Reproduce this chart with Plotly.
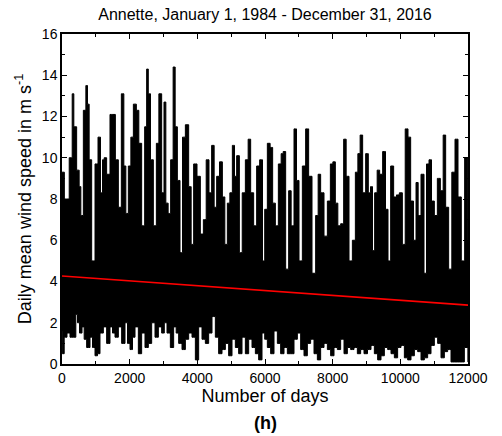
import plotly.graph_objects as go

# Upper envelope (local maxima of daily mean wind speed), day index and value
upper_days = [0, 139, 287, 316, 384, 482, 532, 582, 680, 730, 777, 828, 925, 1026, 1102, 1173, 1221, 1271, 1368, 1469,
              1537, 1617, 1714, 1794, 1862, 1912, 2010, 2060, 2158, 2237, 2305, 2403, 2483, 2521, 2580, 2651, 2749, 2829, 2897, 2994,
              3036, 3103, 3171, 3251, 3319, 3370, 3449, 3526, 3597, 3695, 3792, 3842, 3940, 4040, 4138, 4218, 4306, 4383, 4463, 4531,
              4611, 4700, 4779, 4847, 4927, 4995, 5075, 5122, 5202, 5282, 5371, 5468, 5536, 5616, 5713, 5793, 5891, 5962,
              6021, 6118, 6186, 6266, 6346, 6443, 6512, 6562, 6659, 6739, 6807, 6907, 6955, 7055, 7153, 7250, 7330, 7448, 7546, 7596,
              7694, 7794, 7892, 7972, 8039, 8119, 8187, 8285, 8365, 8433, 8533, 8631, 8711, 8778, 8846, 8926, 9024,
              9083, 9154, 9201, 9281, 9349, 9429, 9526, 9597, 9674, 9754, 9851, 9922, 10020, 10100, 10188, 10265, 10345, 10434, 10493, 10561,
              10661, 10738, 10809, 10886, 10957, 11054, 11134, 11232, 11300, 11379, 11477, 11566, 11666, 11743, 11861, 11941, 12053]
upper_vals = [9.3, 8.0, 10.0, 13.1, 11.5, 9.4, 8.6, 7.2, 12.3, 13.5, 12.6, 9.9, 5.0, 9.7, 11.0, 8.3, 9.9, 10.0, 9.2, 12.1,
              12.1, 9.9, 7.6, 13.1, 9.6, 7.3, 9.6, 11.0, 12.6, 12.3, 10.7, 6.7, 11.5, 14.3, 13.1, 9.9, 6.7, 10.7, 13.1, 8.3,
              12.7, 7.8, 7.3, 9.9, 14.4, 11.5, 8.9, 5.4, 11.0, 11.6, 8.6, 5.8, 9.7, 9.1, 6.3, 7.0, 9.9, 8.3, 10.6, 7.6,
              9.1, 9.8, 8.1, 5.8, 7.8, 8.3, 10.6, 9.1, 10.1, 5.4, 8.3, 9.9, 10.9, 8.3, 6.7, 9.6, 9.9, 5.0,
              7.5, 10.7, 10.5, 7.8, 6.7, 9.7, 10.2, 10.3, 4.6, 8.4, 6.7, 11.4, 8.9, 5.0, 9.6, 11.4, 9.1, 4.4, 7.2, 9.2,
              8.3, 6.2, 7.9, 9.7, 9.8, 7.8, 6.7, 6.8, 10.9, 9.1, 5.0, 6.0, 9.3, 10.2, 11.1, 8.3, 10.2,
              8.3, 8.6, 5.5, 8.3, 9.4, 9.2, 10.3, 7.5, 5.0, 9.6, 8.1, 8.2, 8.3, 5.8, 11.4, 11.0, 7.9, 6.0, 8.8, 7.2,
              9.2, 4.4, 9.7, 9.9, 7.9, 7.2, 9.0, 8.4, 11.1, 7.6, 4.6, 9.3, 10.9, 8.1, 5.0, 10.0, 6.0]

# Lower envelope (local minima), day index and value
lower_days = [0, 21, 109, 186, 287, 384, 434, 482, 553, 630, 680, 777, 878, 925, 1026, 1073, 1173, 1271, 1368, 1469,
              1516, 1617, 1714, 1812, 1912, 1960, 2060, 2107, 2208, 2305, 2403, 2503, 2601, 2699, 2799, 2897, 2994,
              3053, 3154, 3251, 3349, 3399, 3497, 3597, 3695, 3792, 3893, 3990, 4088, 4188, 4286, 4383, 4484, 4581, 4679, 4779,
              4877, 4974, 5075, 5172, 5270, 5371, 5468, 5566, 5666, 5764, 5861, 5962,
              6021, 6118, 6216, 6316, 6414, 6511, 6612, 6709, 6807, 6907, 7005, 7103, 7203, 7300, 7398, 7499, 7596, 7694, 7794,
              7892, 7989, 8090, 8187, 8285, 8385, 8483, 8580, 8681, 8778, 8876, 8976,
              9083, 9183, 9281, 9378, 9479, 9576, 9674, 9774, 9872, 9969, 10070, 10168, 10265, 10366, 10463, 10561, 10661,
              10759, 10856, 10957, 11054, 11152, 11252, 11350, 11447, 11548, 11645, 11743, 11843, 11941, 12053]
lower_vals = [1.6, 0.5, 1.3, 1.5, 1.3, 1.3, 2.4, 2.0, 1.5, 1.8, 1.2, 0.8, 1.3, 0.8, 0.4, 0.5, 1.5, 1.8, 1.0, 1.8,
              1.5, 1.3, 1.8, 1.0, 2.0, 1.0, 0.7, 1.3, 1.8, 0.5, 1.5, 0.8, 1.0, 2.0, 1.3, 1.8, 1.5,
              2.0, 1.5, 0.8, 1.8, 1.5, 1.0, 0.7, 1.2, 1.5, 1.3, 0.2, 1.8, 1.2, 1.0, 1.5, 2.3, 1.3, 0.5, 0.7,
              1.0, 0.4, 1.2, 0.8, 0.5, 1.3, 0.5, 1.2, 0.8, 0.5, 0.2, 1.5,
              1.2, 0.8, 0.5, 1.6, 1.0, 0.5, 0.8, 0.5, 0.5, 1.2, 1.5, 0.7, 0.4, 1.0, 1.2, 0.5, 0.2, 0.8, 1.0,
              0.7, 0.4, 0.8, 0.7, 1.2, 0.5, 0.8, 0.7, 0.8, 0.5, 0.7, 0.5,
              0.7, 0.9, 0.5, 0.2, 0.4, 0.8, 0.7, 0.5, 0.3, 0.8, 0.9, 0.3, 0.2, 0.4, 0.7, 0.6, 0.2,
              0.3, 0.5, 0.9, 1.3, 1.0, 0.3, 0.6, 0.7, 0.1, 0.1, 0.1, 0.1, 0.8, 0.1]

# Linear trend of daily mean wind speed
trend_days = [0, 12000]
trend_intercept = 4.27
trend_slope = -0.000118

x_ticks = [0, 2000, 4000, 6000, 8000, 10000, 12000]
x_labels = ["0", "2000", "4000", "6000", "8000", "10000", "12000"]
y_ticks = [0, 2, 4, 6, 8, 10, 12, 14, 16]
y_labels = ["0", "2", "4", "6", "8", "10", "12", "14", "16"]

FONT = "Liberation Sans, Arial, sans-serif"

fig = go.Figure()
fig.add_trace(go.Scatter(x=upper_days, y=upper_vals, mode="lines",
                         line=dict(color="black", width=1, shape="hvh"), fill="tozeroy",
                         fillcolor="black", showlegend=False, hoverinfo="skip"))
fig.add_trace(go.Scatter(x=lower_days, y=lower_vals, mode="lines",
                         line=dict(color="black", width=1, shape="hvh"), fill="tozeroy",
                         fillcolor="white", showlegend=False, hoverinfo="skip"))
fig.add_trace(go.Scatter(x=trend_days, y=[trend_intercept + trend_slope * d for d in trend_days],
                         mode="lines", line=dict(color="#ff0000", width=1.6),
                         showlegend=False, hoverinfo="skip"))

axis_common = dict(showline=True, linecolor="black", linewidth=1.5, mirror="ticks",
                   ticks="inside", ticklen=5, tickwidth=1, tickcolor="black",
                   showgrid=False, zeroline=False,
                   tickfont=dict(family=FONT, size=14, color="black"))

fig.update_layout(
    width=502, height=436,
    margin=dict(l=62, r=34, t=34, b=72),
    paper_bgcolor="white", plot_bgcolor="white",
    title=dict(text="Annette, January 1, 1984 - December 31, 2016",
               font=dict(family=FONT, size=16, color="black"),
               x=(62 + 468) / 2 / 502, xanchor="center", y=0.968, yanchor="middle"),
    xaxis=dict(range=[0, 12000], tickmode="array", tickvals=x_ticks, ticktext=x_labels,
               minor=dict(dtick=1000, ticks="inside", ticklen=3, tickcolor="black"),
               title=dict(text="Number of days", font=dict(family=FONT, size=18, color="black"),
                          standoff=4),
               **axis_common),
    yaxis=dict(range=[0, 16], tickmode="array", tickvals=y_ticks, ticktext=y_labels,
               minor=dict(dtick=1, ticks="inside", ticklen=3, tickcolor="black"),
               title=dict(text="Daily mean wind speed in m s<sup>-1</sup>",
                          font=dict(family=FONT, size=18, color="black"), standoff=6),
               **axis_common),
    annotations=[dict(text="<b>(h)</b>", x=0.5, xref="paper", y=-0.18, yref="paper",
                      yanchor="middle", showarrow=False,
                      font=dict(family=FONT, size=18, color="black"))],
)

fig.write_html("out.html")
